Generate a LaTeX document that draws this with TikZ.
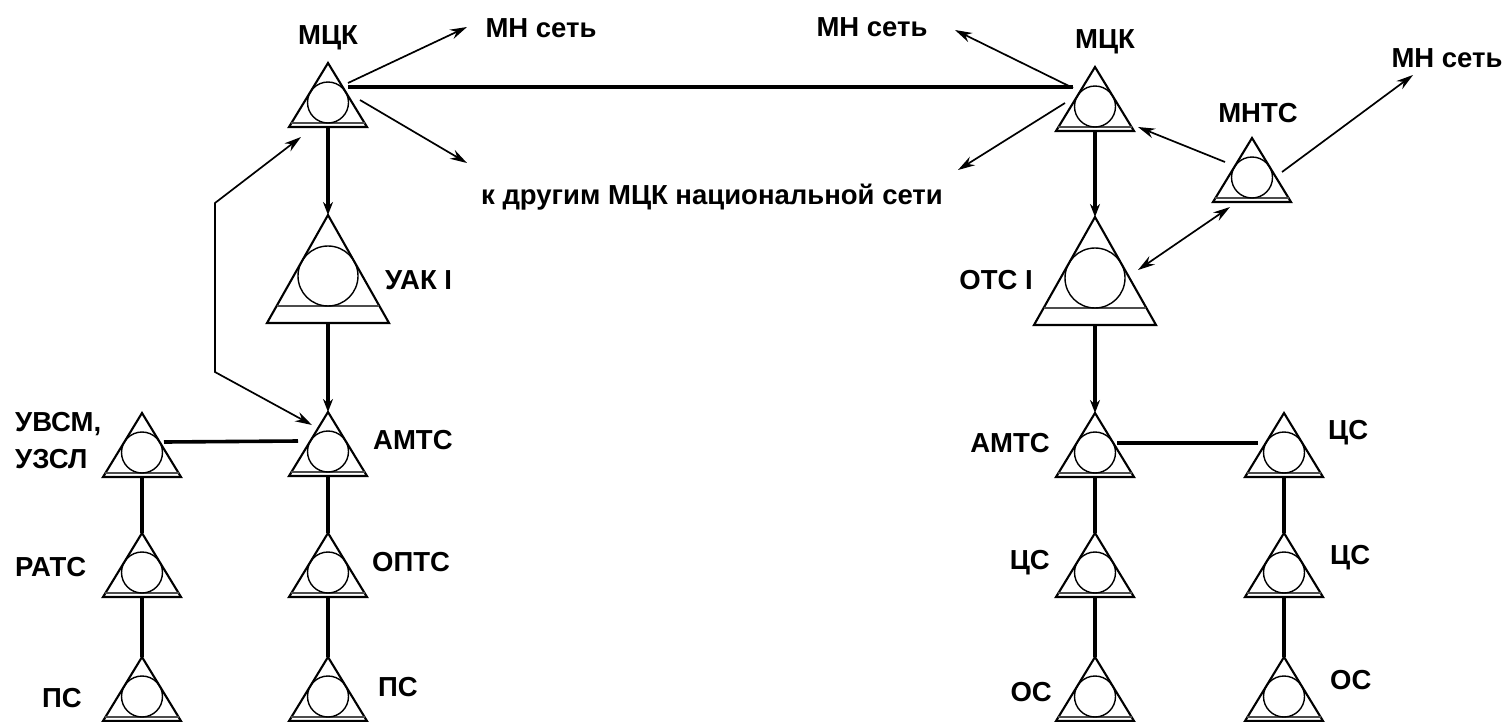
\documentclass[tikz,border=0pt]{standalone}
\usepackage{fontspec}
\setmainfont{Liberation Sans}
\usetikzlibrary{arrows.meta,calc}
\tikzset{
  triline/.style={line width=2.1pt, line join=miter},
  innerline/.style={line width=1.2pt, black!70},
  ring/.style={circle, draw, line width=1.4pt, inner sep=0pt, outer sep=0pt},
  lbl/.style={font=\fontsize{27.5}{37}\selectfont\bfseries, inner sep=0pt},
  thinarrow/.style={line width=1.7pt, -{Stealth[length=17pt,width=10pt]}},
  twoarrow/.style={line width=1.7pt, {Stealth[length=17pt,width=10pt]}-{Stealth[length=17pt,width=10pt]}},
  thickarrow/.style={line width=3.6pt, -{Stealth[length=13pt,width=10pt]}},
  thickline/.style={line width=3.6pt},
  pics/smallst/.style={code={
    \coordinate (-top) at (0,0);
    \coordinate (-bl) at (-39,64);
    \coordinate (-br) at (39,64);
    \coordinate (-b) at (0,64);
    \draw[triline] (-top) -- (-bl) -- (-br) -- cycle;
    \draw[innerline] (-36.6,60) -- (36.6,60);
    \node[ring, minimum size=41pt] (-c) at (0,39.5) {};
  }},
  pics/bigst/.style={code={
    \coordinate (-top) at (0,0);
    \coordinate (-bl) at (-61,108);
    \coordinate (-br) at (61,108);
    \coordinate (-b) at (0,108);
    \draw[triline] (-top) -- (-bl) -- (-br) -- cycle;
    \draw[innerline] (-51.4,91) -- (51.4,91);
    \node[ring, minimum size=60pt] (-c) at (0,61) {};
  }}
}
\begin{document}
\begin{tikzpicture}[x=1pt,y=-1pt]
\useasboundingbox[fill=white] (0,0) rectangle (1504,721);

% stations
\pic (lmck) at (328,63) {smallst};
\pic (uak) at (328,215) {bigst};
\pic (lamts) at (328,412) {smallst};
\pic (uvsm) at (142,413) {smallst};
\pic (rats) at (142,533) {smallst};
\pic (lps) at (142,657) {smallst};
\pic (opts) at (328,533) {smallst};
\pic (rps) at (328,657) {smallst};
\pic (rmck) at (1095,67) {smallst};
\pic (mnts) at (1252,138) {smallst};
\pic (ots) at (1095,217) {bigst};
\pic (ramts) at (1095,413) {smallst};
\pic (rcs) at (1284,413) {smallst};
\pic (cs2) at (1095,533) {smallst};
\pic (cs3) at (1284,533) {smallst};
\pic (os1) at (1095,657) {smallst};
\pic (os2) at (1284,657) {smallst};

% labels
\node[lbl] (tMckL) at (328,38) {МЦК};
\node[lbl] (tMnL) at (541,28) {МН сеть};
\node[lbl] (tMnM) at (872,27) {МН сеть};
\node[lbl] (tMckR) at (1105,42) {МЦК};
\node[lbl] (tMnts) at (1258,113) {МНТС};
\node[lbl] (tMnR) at (1447,58) {МН сеть};
\node[lbl] (tOther) at (712,197) {к другим МЦК национальной сети};
\node[lbl, anchor=west] (tUak) at (385,280) {УАК I};
\node[lbl, anchor=east] (tOts) at (1033,280) {ОТС I};
\node[lbl, anchor=west] (tAmtsL) at (373,440) {АМТС};
\node[lbl, anchor=west, align=left] (tUvsm) at (15,441) {УВСМ,\\УЗСЛ};
\node[lbl, anchor=west] (tRats) at (15,567) {РАТС};
\node[lbl] (tPsL) at (62,698) {ПС};
\node[lbl, anchor=west] (tOpts) at (372,562) {ОПТС};
\node[lbl, anchor=west] (tPsR) at (378,687) {ПС};
\node[lbl, anchor=east] (tAmtsR) at (1050,443) {АМТС};
\node[lbl, anchor=west] (tCs1) at (1328,433) {ЦС};
\node[lbl, anchor=east] (tCs2) at (1050,563) {ЦС};
\node[lbl, anchor=west] (tCs3) at (1330,558) {ЦС};
\node[lbl, anchor=east] (tOs1) at (1052,692) {ОС};
\node[lbl, anchor=west] (tOs2) at (1330,680) {ОС};

% free ends
\coordinate (eMnL) at (467,27);
\coordinate (eOthL) at (467,163);
\coordinate (eMnM) at (955,30);
\coordinate (eOthR) at (958,170);
\coordinate (eMnR) at (1413,75);
\coordinate (k1) at (215,203);
\coordinate (k2) at (215,372);

% connectors, left МЦК
\draw[thinarrow] ($(lmck-top)+(20,20)$) -- (eMnL);
\draw[thinarrow] ($(lmck-top)+(32,37)$) -- (eOthL);
\draw[thickline] ($(lmck-top)+(20,24)$) -- ($(rmck-top)+(-22,20)$);
\draw[thickarrow] (lmck-b) -- (uak-top);
\draw[thickarrow] (uak-b) -- (lamts-top);
\draw[twoarrow] ($(lmck-top)+(-27,74)$) -- (k1) -- (k2) -- ($(lamts-top)+(-16,13)$);
\draw[line width=2.6pt] (k1) -- (k2);

% left lower tree
\draw[thickline] ($(uvsm-top)+(22,29)$) -- ($(lamts-top)+(-30,29)$);
\draw[thickline] (uvsm-b) -- (rats-top);
\draw[thickline] (rats-b) -- (lps-top);
\draw[thickline] (lamts-b) -- (opts-top);
\draw[thickline] (opts-b) -- (rps-top);

% right МЦК
\draw[thinarrow] ($(rmck-top)+(-22,21)$) -- (eMnM);
\draw[thinarrow] ($(rmck-top)+(-30,36)$) -- (eOthR);
\draw[thickarrow] (rmck-b) -- (ots-top);
\draw[thinarrow] ($(mnts-top)+(-27,24)$) -- ($(rmck-top)+(43,60)$);
\draw[thinarrow] ($(mnts-top)+(30,34)$) -- (eMnR);
\draw[twoarrow] ($(mnts-top)+(-22,69)$) -- ($(ots-top)+(43,53)$);
\draw[thickarrow] (ots-b) -- (ramts-top);

% right lower tree
\draw[thickline] ($(ramts-top)+(22,30)$) -- ($(rcs-top)+(-26,30)$);
\draw[thickline] (ramts-b) -- (cs2-top);
\draw[thickline] (cs2-b) -- (os1-top);
\draw[thickline] (rcs-b) -- (cs3-top);
\draw[thickline] (cs3-b) -- (os2-top);
\end{tikzpicture}
\end{document}
